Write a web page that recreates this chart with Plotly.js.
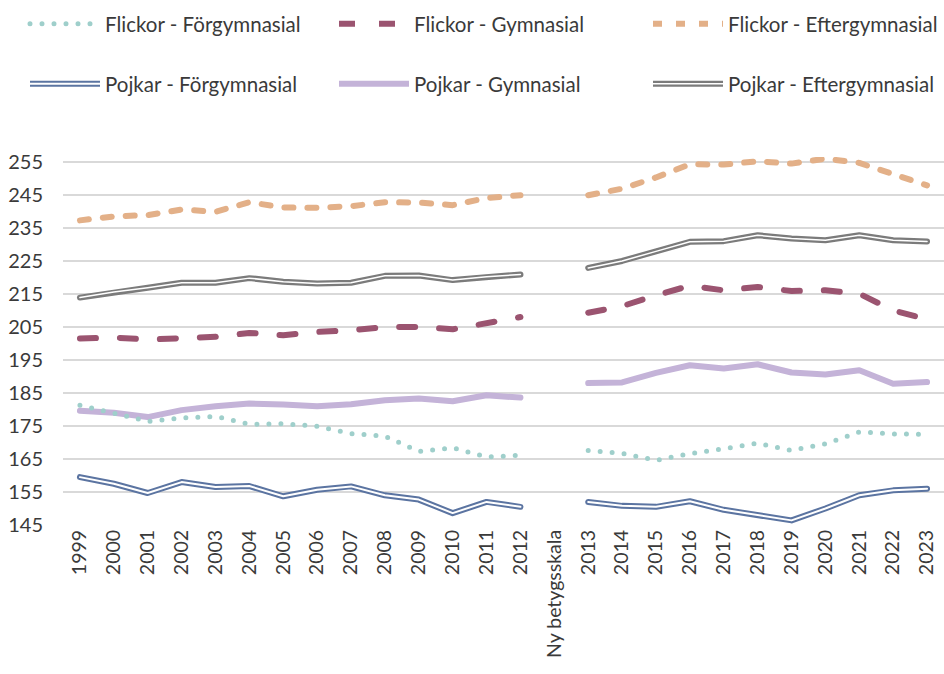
<!DOCTYPE html>
<html>
<head>
<meta charset="utf-8">
<script src="https://cdn.plot.ly/plotly-3.0.1.min.js"></script>
<style>
html,body{margin:0;padding:0;background:#fff;}
#chart{width:944px;height:674px;}
.scatterlayer .js-line, .legend .js-line { stroke-linecap: round; stroke-linejoin: round; }
</style>
</head>
<body>
<div id="chart"></div>
<script>
const categories = ['1999','2000','2001','2002','2003','2004','2005','2006','2007','2008','2009','2010','2011','2012',
  'Ny betygsskala',
  '2013','2014','2015','2016','2017','2018','2019','2020','2021','2022','2023'];

const flickorForgymnasial = [181.3,179.0,176.4,177.4,177.9,175.5,175.7,174.9,172.7,171.9,167.3,168.4,165.6,166.1,
  null,
  167.6,166.7,164.6,166.6,168.1,169.8,167.6,169.6,173.2,172.6,172.5];
const flickorGymnasial = [201.5,201.8,201.2,201.5,202.0,203.2,202.5,203.5,204.0,205.0,205.0,204.3,206.0,208.0,
  null,
  209.3,211.3,214.6,217.5,216.1,217.1,215.9,216.1,215.1,210.0,207.3];
const flickorEftergymnasial = [237.3,238.5,238.9,240.6,239.9,242.8,241.2,241.1,241.6,242.8,242.7,241.9,244.1,244.9,
  null,
  244.9,246.9,250.3,254.3,254.2,255.2,254.5,256.0,254.7,251.5,247.9];
const pojkarForgymnasial = [159.5,157.5,154.7,158.0,156.5,156.8,153.7,155.7,156.7,154.0,152.7,148.6,152.0,150.5,
  null,
  152.0,150.8,150.5,152.2,149.6,147.9,146.4,150.0,154.0,155.5,156.0];
const pojkarGymnasial = [179.6,179.0,177.7,179.8,181.0,181.8,181.5,181.0,181.6,182.8,183.3,182.5,184.3,183.6,
  null,
  188.0,188.2,191.1,193.4,192.4,193.7,191.2,190.6,191.9,187.8,188.3];
const pojkarEftergymnasial = [213.9,215.6,216.9,218.4,218.4,219.8,218.7,218.2,218.4,220.5,220.6,219.2,220.2,220.9,
  null,
  222.9,225.0,227.9,230.8,231.0,232.8,231.8,231.3,232.8,231.3,230.9];

const yTicks = [145,155,165,175,185,195,205,215,225,235,245,255];

const FONT = 'Lato, "Open Sans", sans-serif';
const TXT = '#3a3a3a';

function tr(name, y, color, width, dash, legend) {
  return {
    type: 'scatter', mode: 'lines', x: categories, y: y, name: name,
    connectgaps: false, legend: legend, showlegend: true,
    line: {color: color, width: width, dash: dash || 'solid'},
    hoverinfo: 'skip'
  };
}

const data = [
  tr('Pojkar - Förgymnasial', pojkarForgymnasial, '#5b74a1', 6, 'solid', 'legend4'),
  tr(' ', pojkarForgymnasial, '#ffffff', 2, 'solid', 'legend7'),
  tr('Pojkar - Gymnasial', pojkarGymnasial, '#c4b3d8', 6, 'solid', 'legend5'),
  tr('Pojkar - Eftergymnasial', pojkarEftergymnasial, '#7b7b7b', 6, 'solid', 'legend6'),
  tr(' ', pojkarEftergymnasial, '#ffffff', 1.5, 'solid', 'legend8'),
  tr('Flickor - Förgymnasial', flickorForgymnasial, '#9fcfcb', 5, '0px,12px', 'legend'),
  tr('Flickor - Gymnasial', flickorGymnasial, '#9b5470', 6, '16px,24px', 'legend2'),
  tr('Flickor - Eftergymnasial', flickorEftergymnasial, '#e3b088', 6, '9px,14px', 'legend3')
];

function leg(xpx, ypx) {
  return {
    orientation: 'h', xref: 'container', yref: 'container',
    xanchor: 'left', yanchor: 'middle',
    x: xpx / 944, y: 1 - ypx / 674,
    font: {family: FONT, size: 20.5, color: TXT},
    bgcolor: 'rgba(0,0,0,0)', borderwidth: 0,
    itemwidth: 70, itemclick: false, itemdoubleclick: false
  };
}

const layout = {
  width: 944, height: 674,
  margin: {l: 63, r: 0, t: 157, b: 149},
  paper_bgcolor: '#ffffff', plot_bgcolor: '#ffffff',
  font: {family: FONT, size: 19, color: TXT},
  showlegend: true,
  legend: leg(25, 24),
  legend2: leg(334, 24),
  legend3: leg(648, 24),
  legend4: leg(25, 84),
  legend5: leg(334, 84),
  legend6: leg(648, 84),
  legend7: leg(25, 84),
  legend8: leg(648, 84),
  xaxis: {
    type: 'category', range: [-0.5, 25.5], tickangle: -90,
    showgrid: false, zeroline: false, showline: false, ticks: '',
    tickfont: {family: FONT, size: 19.5, color: TXT}, fixedrange: true
  },
  yaxis: {
    range: [145, 256.5], tickvals: yTicks, ticktext: yTicks.map(String),
    showgrid: true, gridcolor: '#d9d9d9', gridwidth: 1.5,
    zeroline: false, showline: false, ticks: '', ticklabelstandoff: 19,
    tickfont: {family: FONT, size: 20, color: TXT}, fixedrange: true
  }
};

Plotly.newPlot('chart', data, layout, {displayModeBar: false, staticPlot: true});
</script>
</body>
</html>
